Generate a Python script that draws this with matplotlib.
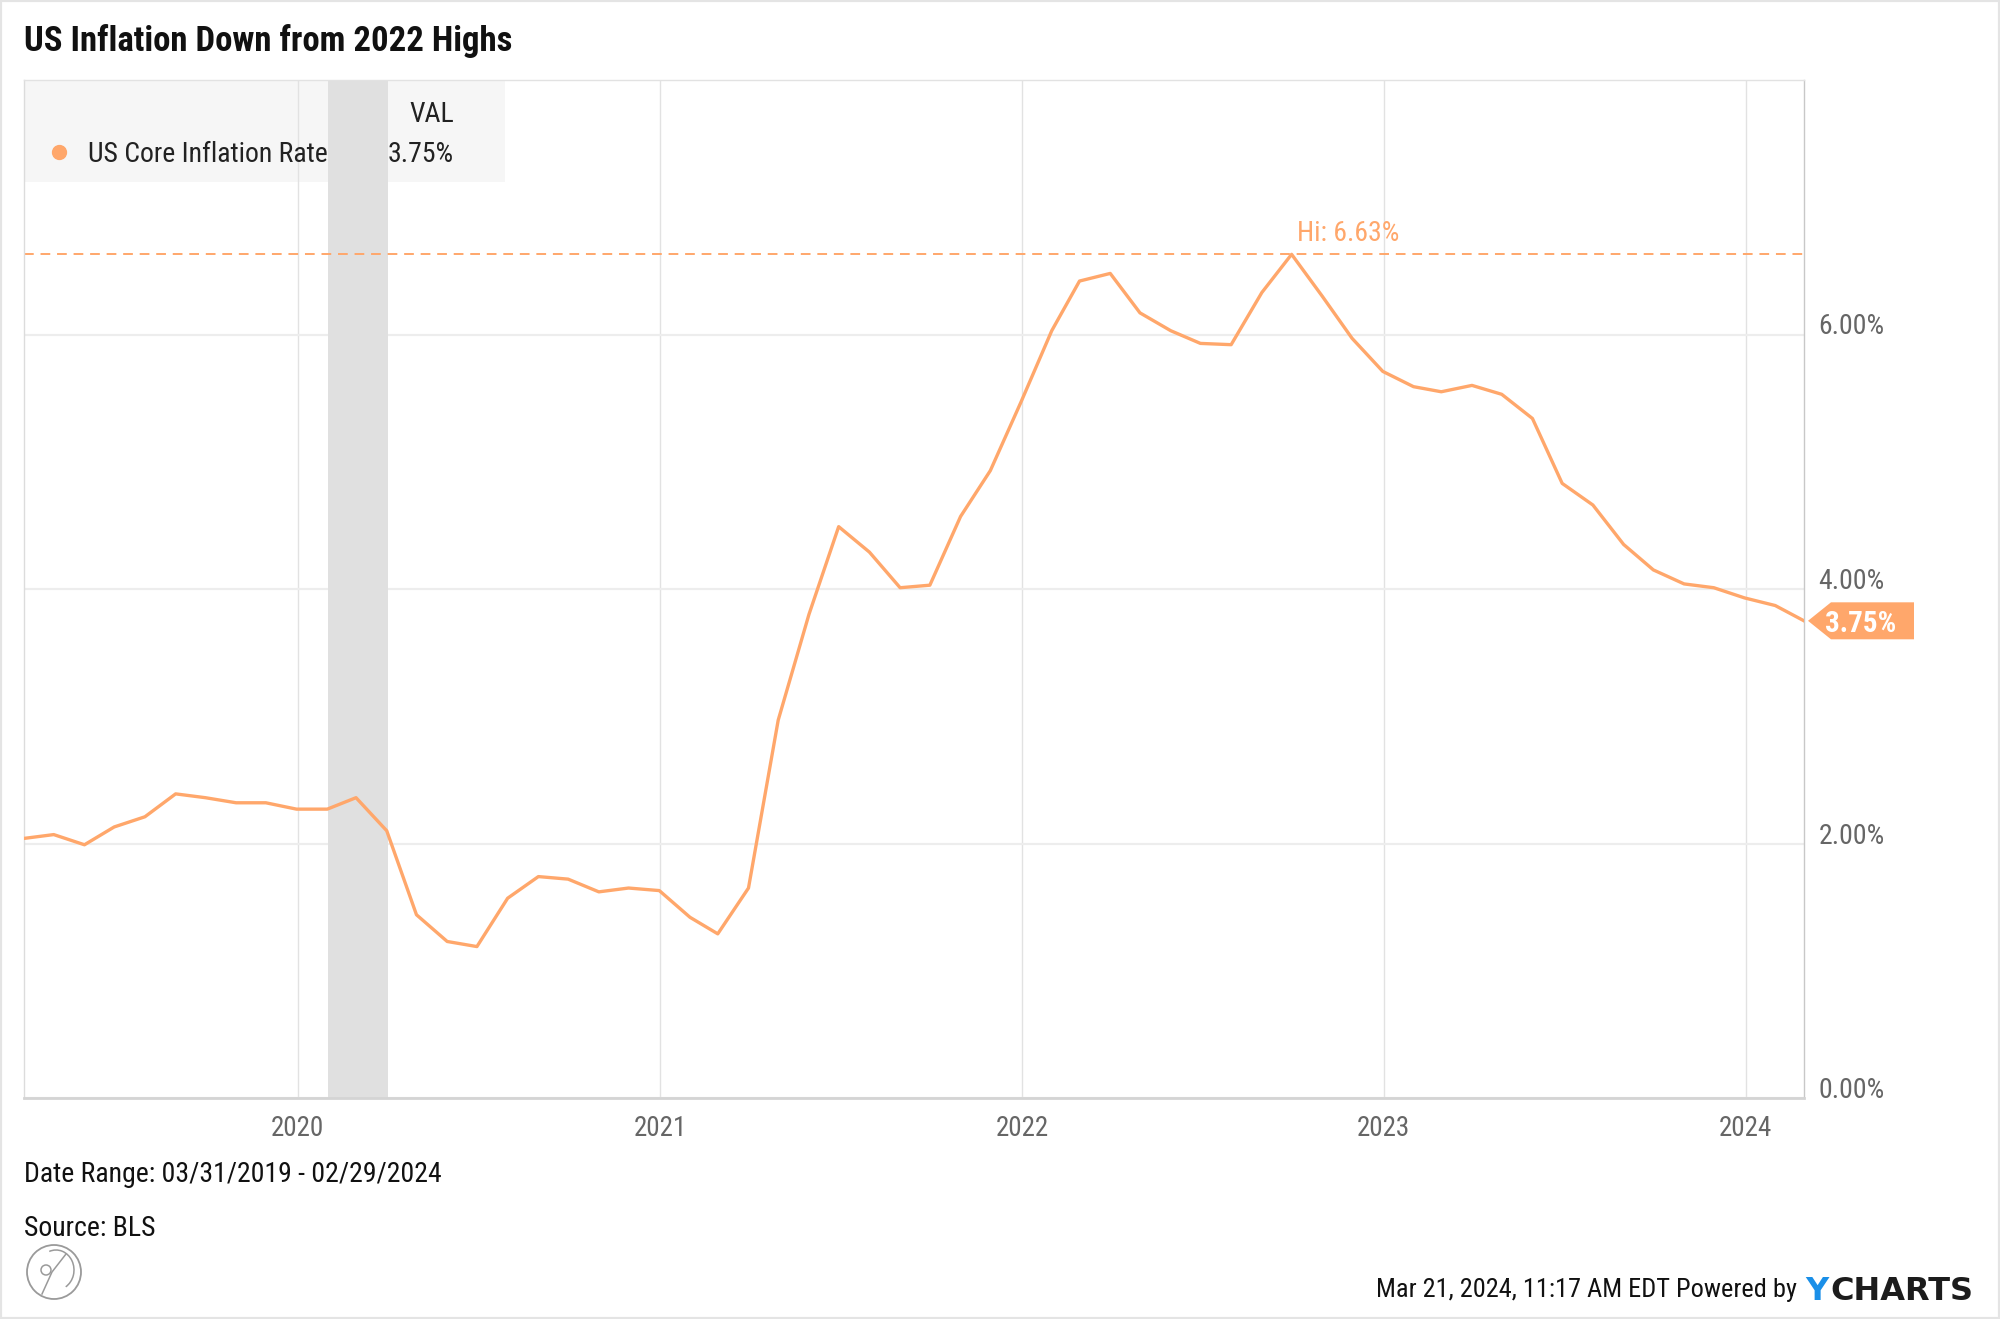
import matplotlib
matplotlib.use("Agg")
import matplotlib.pyplot as plt
import matplotlib.dates as mdates
import matplotlib.transforms as mtransforms
from matplotlib.patches import Rectangle, Polygon, Circle, Arc
from matplotlib.lines import Line2D
from matplotlib.ticker import FuncFormatter
from matplotlib import font_manager
import pandas as pd

# ---------------- data ----------------
series_name = "US Core Inflation Rate"
start_month = "2019-03"
core_inflation = [
    2.04, 2.07, 1.99, 2.13, 2.21, 2.39, 2.36, 2.32, 2.32, 2.27,              # 2019 Mar-Dec
    2.27, 2.36, 2.10, 1.44, 1.23, 1.19, 1.57, 1.74, 1.72, 1.62, 1.65, 1.63,  # 2020
    1.42, 1.29, 1.65, 2.97, 3.80, 4.49, 4.29, 4.01, 4.03, 4.57, 4.93, 5.47,  # 2021
    6.03, 6.42, 6.48, 6.17, 6.03, 5.93, 5.92, 6.33, 6.63, 6.30, 5.97, 5.71,  # 2022
    5.59, 5.55, 5.60, 5.53, 5.34, 4.83, 4.66, 4.35, 4.15, 4.04, 4.01, 3.93,  # 2023
    3.87, 3.75,                                                              # 2024
]
recession_start = "2020-02-01"
recession_end = "2020-04-01"
y_ticks = [0, 2, 4, 6]
title = "US Inflation Down from 2022 Highs"
source = "Source: BLS"
stamp = "Mar 21, 2024, 11:17 AM EDT Powered by"

dates = pd.period_range(start_month, periods=len(core_inflation), freq="M").to_timestamp(how="end").normalize()

# ---------------- fonts ----------------
names = {f.name for f in font_manager.fontManager.ttflist}
FONT = next((n for n in ["Roboto Condensed", "Liberation Sans Narrow", "Roboto"] if n in names), "DejaVu Sans")
plt.rcParams["font.family"] = [FONT, "DejaVu Sans"]

ORANGE = "#ffa76b"
GRAY_TXT = "#666666"

W, H = 2000, 1319
def fx(px):
    return px / W
def fy(py):
    return 1 - py / H

fig = plt.figure(figsize=(20, 13.19), dpi=100)
fig.patch.set_facecolor("white")

ax = fig.add_axes([fx(24), fy(1098), fx(1804) - fx(24), fy(80) - fy(1098)])
ax.set_facecolor("white")

# legend background box (beneath grid)
ax.add_patch(Rectangle((fx(24), fy(182)), fx(505) - fx(24), fy(80) - fy(182),
                       transform=fig.transFigure, facecolor="#f6f6f6", edgecolor="none", zorder=0.1))

# grid
ax.set_axisbelow(True)
ax.grid(axis="y", color="#ededed", lw=1.6)
ax.grid(axis="x", color="#e2e2e2", lw=1.0)

# recession shading
ax.axvspan(pd.Timestamp(recession_start), pd.Timestamp(recession_end), color="#e0e0e0", lw=0, zorder=0.6)

# main line
ax.plot(dates, core_inflation, color=ORANGE, lw=2.4, zorder=3, solid_joinstyle="round")

# high line
imax = max(range(len(core_inflation)), key=lambda i: core_inflation[i])
hi = core_inflation[imax]
ax.axhline(hi, color=ORANGE, lw=1.4, ls=(0, (5, 3.5)), zorder=2.5)
ax.annotate(f"Hi: {hi:.2f}%", xy=(dates[imax], hi), xytext=(5, 13), textcoords="offset pixels",
            ha="left", va="baseline", color=ORANGE, fontsize=20, zorder=5)

# limits
ax.set_xlim(dates[0], dates[-1])
ax.set_ylim(0, 8)

# ticks
ax.xaxis.set_major_locator(mdates.YearLocator())
ax.xaxis.set_major_formatter(mdates.DateFormatter("%Y"))
ax.tick_params(axis="x", length=0, pad=12, labelsize=19.5, labelcolor=GRAY_TXT)
ax.set_yticks(y_ticks)
ax.yaxis.tick_right()
ax.yaxis.set_major_formatter(FuncFormatter(lambda v, p: f"{v:.2f}%"))
ax.tick_params(axis="y", length=0, pad=10.5, labelsize=20, labelcolor=GRAY_TXT)
for lbl in ax.get_yticklabels():
    lbl.set_va("baseline")

# spines
for side, col, lw in [("left", "#dcdcdc", 1.0), ("top", "#e2e2e2", 1.0),
                      ("right", "#c8c8c8", 1.0), ("bottom", "#d4d4d4", 2.0)]:
    ax.spines[side].set_color(col)
    ax.spines[side].set_linewidth(lw)

# last value tag
xl = mdates.date2num(dates[-1])
yl = core_inflation[-1]
tag_tr = mtransforms.Affine2D() + mtransforms.ScaledTranslation(xl, yl, ax.transData)
tag = Polygon([(4, 0), (27, 18.5), (110, 18.5), (110, -18.5), (27, -18.5)], closed=True,
              transform=tag_tr, facecolor=ORANGE, edgecolor="none", clip_on=False, zorder=6)
ax.add_patch(tag)
ax.annotate(f"{yl:.2f}%", xy=(dates[-1], yl), xytext=(57, 0), textcoords="offset pixels",
            ha="center", va="center_baseline", color="white", fontsize=21, fontweight="bold",
            zorder=7, annotation_clip=False)

# legend texts
fig.text(fx(454), fy(112), "VAL", ha="right", va="center_baseline", fontsize=20, color="#222222")
fig.add_artist(Line2D([fx(59)], [fy(152)], marker="o", ms=10, color=ORANGE, lw=0,
                      transform=fig.transFigure))
fig.text(fx(88), fy(152), series_name, ha="left", va="center_baseline", fontsize=20, color="#222222")
fig.text(fx(454), fy(152), f"{core_inflation[-1]:.2f}%", ha="right", va="center_baseline",
         fontsize=20, color="#222222")

# title
fig.text(fx(24), fy(38), title, ha="left", va="center_baseline", fontsize=25, fontweight="bold",
         color="#111111")

# footer
fig.text(fx(24), fy(1171), f"Date Range: {dates[0]:%m/%d/%Y} - {dates[-1]:%m/%d/%Y}",
         ha="left", va="center_baseline", fontsize=20, color="#111111")
fig.text(fx(24), fy(1226), source, ha="left", va="center_baseline", fontsize=20, color="#111111")
fig.text(fx(1797), fy(1288), stamp, ha="right", va="center_baseline", fontsize=19, color="#111111")
ty = fig.text(fx(1805), fy(1288), "Y", ha="left", va="center_baseline", fontsize=23,
              fontweight="bold", color="#1a8fe8", family="DejaVu Sans")
fig.canvas.draw()
bb = ty.get_window_extent()
fig.text(bb.x1 / W + 0.001, fy(1288), "CHARTS", ha="left", va="center_baseline", fontsize=23,
         fontweight="bold", color="#1c1c1c", family="DejaVu Sans")

# logo (simple outline)
LOGO = "#9a9a9a"
cx, cy = 0.54, (H - 1272) / 100
fig.add_artist(Circle((cx, cy), 0.27, transform=fig.dpi_scale_trans,
                      fill=False, edgecolor=LOGO, lw=1.3))
fig.add_artist(Arc((cx + 0.02, cy + 0.02), 0.36, 0.40, theta1=-60, theta2=110,
                   transform=fig.dpi_scale_trans, edgecolor=LOGO, lw=1.1))
fig.add_artist(Line2D([cx - 0.12, cx - 0.02, cx + 0.12], [cy - 0.22, cy + 0.0, cy + 0.18],
                      color=LOGO, lw=1.1, transform=fig.dpi_scale_trans))
fig.add_artist(Circle((cx - 0.08, cy + 0.02), 0.05, transform=fig.dpi_scale_trans,
                      fill=False, edgecolor=LOGO, lw=1.1))

# figure border
fig.add_artist(Rectangle((0, 0), 1, 1, transform=fig.transFigure, fill=False,
                         edgecolor="#e4e4e4", lw=3))

fig.savefig("out.png", dpi=100, facecolor="white")
